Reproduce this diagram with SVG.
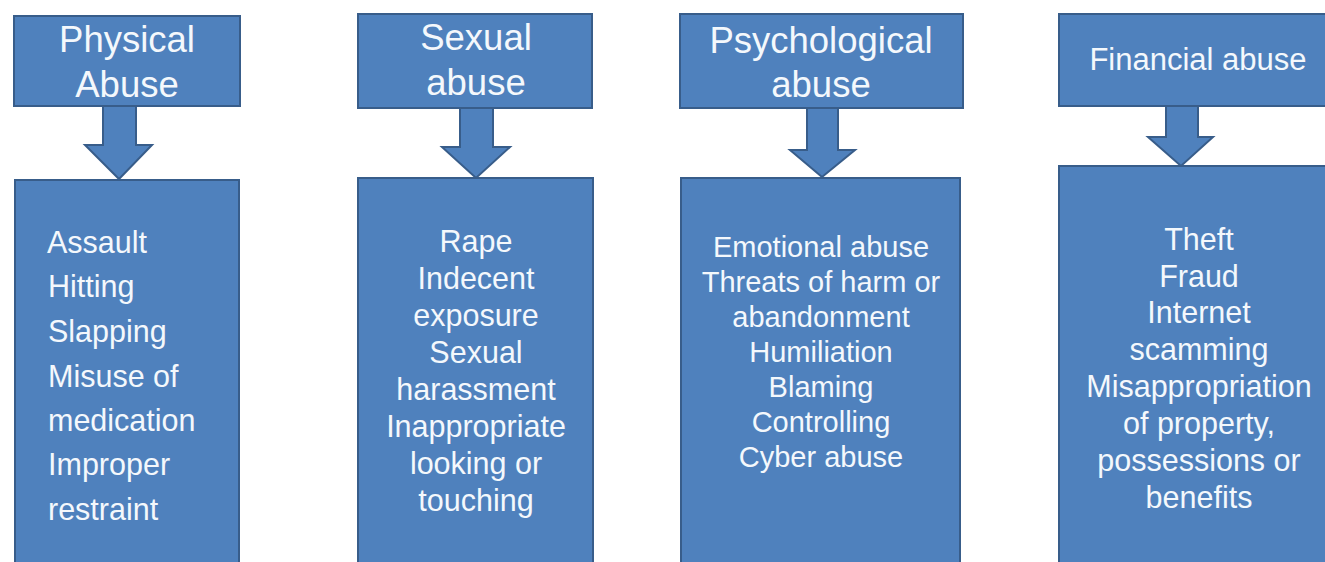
<svg xmlns="http://www.w3.org/2000/svg" width="1325" height="562" viewBox="0 0 1325 562">
  <style>
    .box { fill: #4f81bd; stroke: #385d8a; stroke-width: 2; }
    .arrow { fill: #4f81bd; stroke: #385d8a; stroke-width: 2; stroke-linejoin: miter; }
    text { font-family: "Liberation Sans", Arial, sans-serif; fill: #f4f8fc; }
    .head { font-size: 36.5px; text-anchor: middle; }
    .list { font-size: 30.5px; }
    .mid { text-anchor: middle; }
  </style>
  <rect width="1325" height="562" fill="#ffffff"/>

  <!-- block arrows linking each heading to its list -->
  <g id="connectors">
    <polygon class="arrow" points="103,106 136,106 136,145 152,145 119,179 85,145 103,145"/>
    <polygon class="arrow" points="460,108 493,108 493,147 510,147 476,178 442,147 460,147"/>
    <polygon class="arrow" points="807,108 838,108 838,150 855,150 822,177 790,150 807,150"/>
    <polygon class="arrow" points="1166,106 1198,106 1198,137 1213,137 1181,166 1148,137 1166,137"/>
  </g>

  <!-- physical -->
  <g id="physical-head">
    <rect class="box" x="14" y="16" width="226" height="90"/>
    <text class="head" x="127" y="52">Physical</text>
    <text class="head" x="127" y="97">Abuse</text>
  </g>
  <g id="physical-list">
    <rect class="box" x="15" y="180" width="224" height="400"/>
    <text class="list" x="47" y="253">Assault</text>
    <text class="list" x="48" y="297">Hitting</text>
    <text class="list" x="48" y="342">Slapping</text>
    <text class="list" x="48" y="387">Misuse of</text>
    <text class="list" x="48" y="431">medication</text>
    <text class="list" x="48" y="475">Improper</text>
    <text class="list" x="48" y="520">restraint</text>
  </g>

  <!-- sexual -->
  <g id="sexual-head">
    <rect class="box" x="358" y="14" width="234" height="94"/>
    <text class="head" x="476" y="50">Sexual</text>
    <text class="head" x="476" y="95">abuse</text>
  </g>
  <g id="sexual-list">
    <rect class="box" x="358" y="178" width="235" height="400"/>
    <text class="list mid" x="476" y="252">Rape</text>
    <text class="list mid" x="476" y="289">Indecent</text>
    <text class="list mid" x="476" y="326">exposure</text>
    <text class="list mid" x="476" y="363">Sexual</text>
    <text class="list mid" x="476" y="400">harassment</text>
    <text class="list mid" x="476" y="437">Inappropriate</text>
    <text class="list mid" x="476" y="474">looking or</text>
    <text class="list mid" x="476" y="511">touching</text>
  </g>

  <!-- psychological -->
  <g id="psychological-head">
    <rect class="box" x="680" y="14" width="283" height="94"/>
    <text class="head" x="821" y="53">Psychological</text>
    <text class="head" x="821" y="97">abuse</text>
  </g>
  <g id="psychological-list">
    <rect class="box" x="681" y="178" width="279" height="400"/>
    <text class="list mid" x="821" y="257" style="font-size:29px">Emotional abuse</text>
    <text class="list mid" x="821" y="292" style="font-size:29px">Threats of harm or</text>
    <text class="list mid" x="821" y="327" style="font-size:29px">abandonment</text>
    <text class="list mid" x="821" y="362" style="font-size:29px">Humiliation</text>
    <text class="list mid" x="821" y="397" style="font-size:29px">Blaming</text>
    <text class="list mid" x="821" y="432" style="font-size:29px">Controlling</text>
    <text class="list mid" x="821" y="467" style="font-size:29px">Cyber abuse</text>
  </g>

  <!-- financial -->
  <g id="financial-head">
    <rect class="box" x="1059" y="14" width="290" height="92"/>
    <text class="head" x="1198" y="70" style="font-size:31px">Financial abuse</text>
  </g>
  <g id="financial-list">
    <rect class="box" x="1059" y="166" width="290" height="420"/>
    <text class="list mid" x="1199" y="250">Theft</text>
    <text class="list mid" x="1199" y="287">Fraud</text>
    <text class="list mid" x="1199" y="323">Internet</text>
    <text class="list mid" x="1199" y="360">scamming</text>
    <text class="list mid" x="1199" y="397">Misappropriation</text>
    <text class="list mid" x="1199" y="434">of property,</text>
    <text class="list mid" x="1199" y="471">possessions or</text>
    <text class="list mid" x="1199" y="508">benefits</text>
  </g>
</svg>
